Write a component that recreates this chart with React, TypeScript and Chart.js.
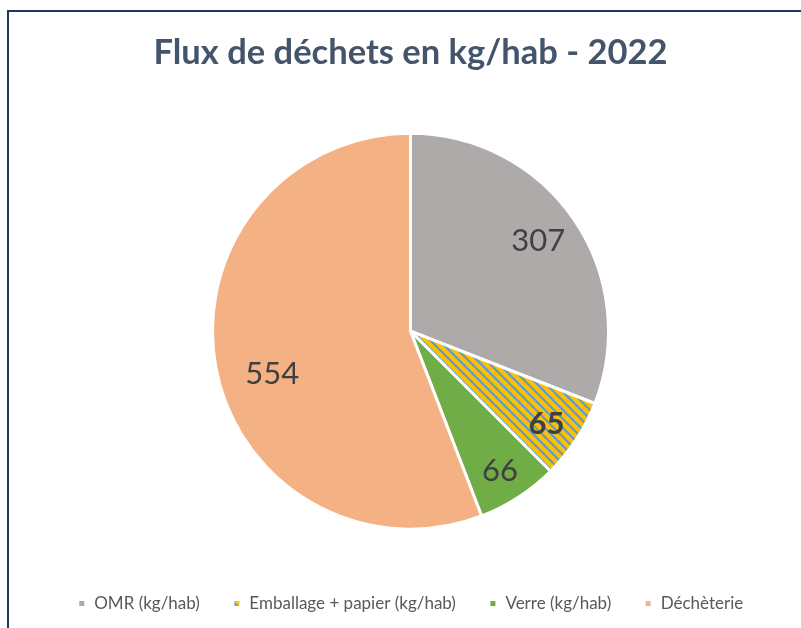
import React, { useEffect, useRef } from 'react';
import { Chart, registerables } from 'chart.js';

Chart.register(...registerables);

const titleText = 'Flux de déchets en kg/hab - 2022';
const categories = ['OMR (kg/hab)', 'Emballage + papier (kg/hab)', 'Verre (kg/hab)', 'Déchèterie'];
const values = [307, 65, 66, 554];
const sliceColors = ['#AEAAAA', 'hatch', '#70AD47', '#F4B183'];
const boldLabels = [false, true, false, false];

// label placement tweaks (style only): radial fraction and angle shift in degrees
const labelRadial = [0.79, 0.83, 0.84, 0.73];
const labelAngleShift = [-1, 1, 0.5, -6.5];

function makeHatch(): CanvasPattern | string {
  const s = 9;
  const c = document.createElement('canvas');
  c.width = s;
  c.height = s;
  const g = c.getContext('2d');
  if (!g) return '#FFC000';
  g.fillStyle = '#FFC000';
  g.fillRect(0, 0, s, s);
  g.strokeStyle = '#5B9BD5';
  g.lineWidth = 2.2;
  for (const off of [-s, 0, s]) {
    g.beginPath();
    g.moveTo(-1, off - 1);
    g.lineTo(s + 1, s + off + 1);
    g.stroke();
  }
  const p = g.createPattern(c, 'repeat');
  return p || '#FFC000';
}

const sliceLabelPlugin = {
  id: 'sliceLabels',
  afterDatasetsDraw(chart: any) {
    const meta = chart.getDatasetMeta(0);
    const ctx = chart.ctx as CanvasRenderingContext2D;
    ctx.save();
    ctx.textAlign = 'center';
    ctx.textBaseline = 'middle';
    ctx.fillStyle = '#404040';
    meta.data.forEach((arc: any, i: number) => {
      const p = arc.getProps(['x', 'y', 'startAngle', 'endAngle', 'outerRadius'], true);
      const mid = (p.startAngle + p.endAngle) / 2 + (labelAngleShift[i] * Math.PI) / 180;
      const r = p.outerRadius * labelRadial[i];
      ctx.font = `${boldLabels[i] ? 'bold ' : ''}31px Lato`;
      ctx.fillText(String(values[i]), p.x + Math.cos(mid) * r, p.y + Math.sin(mid) * r);
    });
    ctx.restore();
  },
};

export default function App() {
  const ref = useRef<HTMLCanvasElement | null>(null);

  useEffect(() => {
    if (!ref.current) return;
    const hatch = makeHatch();
    const bg = sliceColors.map((c) => (c === 'hatch' ? hatch : c));
    const chart = new Chart(ref.current, {
      type: 'pie',
      data: {
        labels: categories,
        datasets: [
          {
            data: values,
            backgroundColor: bg as any,
            borderColor: '#FFFFFF',
            borderWidth: 3,
            radius: 198,
          } as any,
        ],
      },
      options: {
        animation: false,
        responsive: false,
        maintainAspectRatio: false,
        layout: { padding: { left: 20, right: 0, top: 0, bottom: 6 } },
        plugins: {
          title: {
            display: true,
            text: titleText,
            color: '#44546A',
            font: { family: 'Lato', weight: 'bold', size: 34.5 },
            padding: { top: 32, bottom: 27 },
          },
          legend: {
            display: true,
            position: 'bottom',
            labels: {
              color: '#595959',
              font: { family: 'Lato', size: 17 },
              boxWidth: 8,
              boxHeight: 8,
              padding: 33,
            },
          },
          tooltip: { enabled: false },
        },
      },
      plugins: [sliceLabelPlugin],
    });
    return () => chart.destroy();
  }, []);

  return (
    <div
      style={{
        position: 'fixed',
        left: 0,
        top: 0,
        width: 801,
        height: 628,
        overflow: 'hidden',
        background: '#FFFFFF',
      }}
    >
      <div
        style={{
          position: 'absolute',
          left: 7,
          top: 10,
          width: 1200,
          height: 1200,
          borderLeft: '2px solid #1F3864',
          borderTop: '2px solid #1F3864',
          boxSizing: 'border-box',
        }}
      />
      <canvas
        ref={ref}
        width={801}
        height={628}
        style={{ position: 'absolute', left: 0, top: 0, width: 801, height: 628 }}
      />
    </div>
  );
}
